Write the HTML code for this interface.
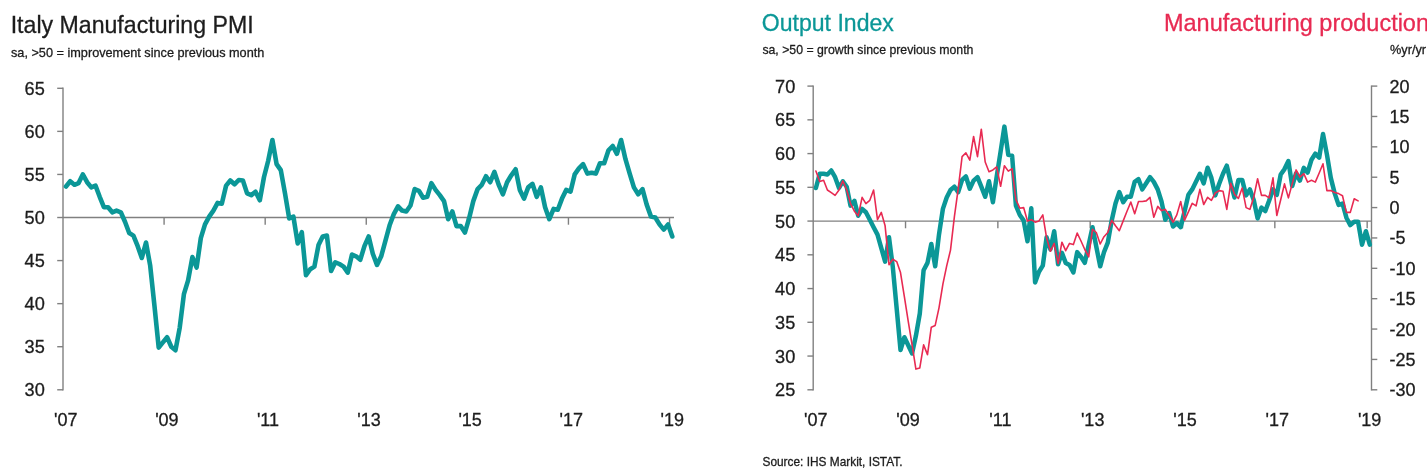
<!DOCTYPE html><html><head><meta charset="utf-8"><title>Italy Manufacturing PMI</title>
<style>html,body{margin:0;padding:0;background:#fff;overflow:hidden}svg{display:block}text{font-family:"Liberation Sans",sans-serif;stroke-width:0.3px}</style></head><body>
<svg width="1427" height="473" viewBox="0 0 1427 473">
<rect width="1427" height="473" fill="#fff"/>
<text x="10.7" y="33.1" font-size="24.2" fill="#1c1c1c" stroke="#1c1c1c" text-anchor="start" textLength="242.9" lengthAdjust="spacingAndGlyphs">Italy Manufacturing PMI</text>
<text x="11.0" y="57.2" font-size="13.3" fill="#1c1c1c" stroke="#1c1c1c" text-anchor="start" textLength="253.3" lengthAdjust="spacingAndGlyphs">sa, &gt;50 = improvement since previous month</text>
<g stroke="#808080" stroke-width="1.4" fill="none" stroke-linecap="butt">
<line x1="63.00" y1="87.60" x2="63.00" y2="390.49"/>
<line x1="57.20" y1="389.79" x2="63.00" y2="389.79"/>
<line x1="57.20" y1="346.72" x2="63.00" y2="346.72"/>
<line x1="57.20" y1="303.65" x2="63.00" y2="303.65"/>
<line x1="57.20" y1="260.58" x2="63.00" y2="260.58"/>
<line x1="57.20" y1="217.51" x2="63.00" y2="217.51"/>
<line x1="57.20" y1="174.44" x2="63.00" y2="174.44"/>
<line x1="57.20" y1="131.37" x2="63.00" y2="131.37"/>
<line x1="57.20" y1="88.30" x2="63.00" y2="88.30"/>
<line x1="63.00" y1="217.51" x2="673.99" y2="217.51"/>
<line x1="164.09" y1="217.51" x2="164.09" y2="224.71"/>
<line x1="265.18" y1="217.51" x2="265.18" y2="224.71"/>
<line x1="366.26" y1="217.51" x2="366.26" y2="224.71"/>
<line x1="467.35" y1="217.51" x2="467.35" y2="224.71"/>
<line x1="568.44" y1="217.51" x2="568.44" y2="224.71"/>
<line x1="669.53" y1="217.51" x2="669.53" y2="224.71"/>
</g>
<text x="44.8" y="396.29" font-size="18" fill="#1c1c1c" stroke="#1c1c1c" text-anchor="end" textLength="20.2" lengthAdjust="spacingAndGlyphs">30</text>
<text x="44.8" y="353.22" font-size="18" fill="#1c1c1c" stroke="#1c1c1c" text-anchor="end" textLength="20.2" lengthAdjust="spacingAndGlyphs">35</text>
<text x="44.8" y="310.15000000000003" font-size="18" fill="#1c1c1c" stroke="#1c1c1c" text-anchor="end" textLength="20.2" lengthAdjust="spacingAndGlyphs">40</text>
<text x="44.8" y="267.08000000000004" font-size="18" fill="#1c1c1c" stroke="#1c1c1c" text-anchor="end" textLength="20.2" lengthAdjust="spacingAndGlyphs">45</text>
<text x="44.8" y="224.01" font-size="18" fill="#1c1c1c" stroke="#1c1c1c" text-anchor="end" textLength="20.2" lengthAdjust="spacingAndGlyphs">50</text>
<text x="44.8" y="180.94" font-size="18" fill="#1c1c1c" stroke="#1c1c1c" text-anchor="end" textLength="20.2" lengthAdjust="spacingAndGlyphs">55</text>
<text x="44.8" y="137.87" font-size="18" fill="#1c1c1c" stroke="#1c1c1c" text-anchor="end" textLength="20.2" lengthAdjust="spacingAndGlyphs">60</text>
<text x="44.8" y="94.8" font-size="18" fill="#1c1c1c" stroke="#1c1c1c" text-anchor="end" textLength="20.2" lengthAdjust="spacingAndGlyphs">65</text>
<text x="65.8" y="426" font-size="18" fill="#1c1c1c" stroke="#1c1c1c" text-anchor="middle">'07</text>
<text x="166.888" y="426" font-size="18" fill="#1c1c1c" stroke="#1c1c1c" text-anchor="middle">'09</text>
<text x="267.976" y="426" font-size="18" fill="#1c1c1c" stroke="#1c1c1c" text-anchor="middle">'11</text>
<text x="369.064" y="426" font-size="18" fill="#1c1c1c" stroke="#1c1c1c" text-anchor="middle">'13</text>
<text x="470.152" y="426" font-size="18" fill="#1c1c1c" stroke="#1c1c1c" text-anchor="middle">'15</text>
<text x="571.2399999999999" y="426" font-size="18" fill="#1c1c1c" stroke="#1c1c1c" text-anchor="middle">'17</text>
<text x="672.328" y="426" font-size="18" fill="#1c1c1c" stroke="#1c1c1c" text-anchor="middle">'19</text>
<polyline points="66.0,186.5 70.2,181.3 74.4,184.8 78.6,183.1 82.8,174.4 87.1,182.2 91.3,187.4 95.5,185.6 99.7,196.8 103.9,207.2 108.1,207.2 112.3,212.3 116.5,210.6 120.8,212.3 125.0,221.8 129.2,233.0 133.4,235.6 137.6,245.9 141.8,258.0 146.0,242.5 150.2,265.7 154.5,306.2 158.7,347.6 162.9,342.4 167.1,337.2 171.3,346.7 175.5,350.2 179.7,327.8 183.9,294.2 188.1,280.4 192.4,257.1 196.6,267.5 200.8,238.2 205.0,224.4 209.2,216.6 213.4,210.6 217.6,202.9 221.8,203.7 226.1,185.6 230.3,180.5 234.5,184.3 238.7,180.0 242.9,180.5 247.1,193.4 251.3,195.1 255.5,191.7 259.8,200.3 264.0,177.0 268.2,160.7 272.4,140.0 276.6,164.1 280.8,170.1 285.0,193.4 289.2,218.4 293.4,216.6 297.7,243.4 301.8,232.2 306.0,275.2 310.2,269.2 314.4,266.6 318.5,245.1 322.7,236.5 326.9,235.6 331.1,270.9 335.3,262.3 339.4,264.0 343.6,266.6 347.8,272.6 352.0,254.6 356.1,256.3 360.3,259.7 364.5,245.9 368.7,236.5 372.8,253.7 377.0,264.9 381.2,256.3 385.4,240.8 389.6,225.3 393.8,214.1 398.0,206.3 402.1,210.6 406.3,211.5 410.5,205.5 414.7,189.1 418.9,190.8 423.1,197.7 427.2,196.8 431.4,183.1 435.6,189.9 439.8,195.1 444.0,201.1 448.2,219.2 452.3,211.5 456.5,226.1 460.7,226.1 464.9,232.6 469.1,218.4 473.3,201.1 477.6,189.1 481.8,184.8 486.0,176.2 490.2,182.2 494.4,171.9 498.7,184.8 502.9,194.3 507.1,182.2 511.3,175.3 515.6,169.3 519.8,189.9 524.0,198.6 528.2,187.4 532.5,183.9 536.7,196.8 540.9,187.4 545.1,207.2 549.3,219.2 553.6,208.9 557.8,209.8 562.0,198.6 566.2,189.9 570.5,191.7 574.7,174.4 578.9,168.4 583.1,164.1 587.4,173.6 591.6,172.7 595.8,173.6 600.0,163.2 604.2,163.2 608.5,150.3 612.7,146.0 616.9,153.8 621.1,140.0 625.4,158.9 629.7,173.6 633.9,187.4 638.2,194.3 642.5,189.1 646.7,204.6 651.0,216.6 655.3,217.5 659.5,224.4 663.8,229.6 668.1,224.4 672.3,236.5" fill="none" stroke="#0b9797" stroke-width="4.6" stroke-linejoin="round" stroke-linecap="round"/>
<text x="761.8" y="30.5" font-size="24.2" fill="#0b9797" stroke="#0b9797" text-anchor="start" textLength="132" lengthAdjust="spacingAndGlyphs">Output Index</text>
<text x="1164" y="30.5" font-size="24.2" fill="#e82a52" stroke="#e82a52" text-anchor="start" textLength="265" lengthAdjust="spacingAndGlyphs">Manufacturing production</text>
<text x="762.4" y="54.1" font-size="13.3" fill="#1c1c1c" stroke="#1c1c1c" text-anchor="start" textLength="211" lengthAdjust="spacingAndGlyphs">sa, &gt;50 = growth since previous month</text>
<text x="1390" y="54.1" font-size="13.3" fill="#1c1c1c" stroke="#1c1c1c" text-anchor="start" textLength="36" lengthAdjust="spacingAndGlyphs">%yr/yr</text>
<g stroke="#808080" stroke-width="1.4" fill="none" stroke-linecap="butt">
<line x1="813.20" y1="85.40" x2="813.20" y2="390.50"/>
<line x1="807.40" y1="389.80" x2="813.20" y2="389.80"/>
<line x1="807.40" y1="356.06" x2="813.20" y2="356.06"/>
<line x1="807.40" y1="322.31" x2="813.20" y2="322.31"/>
<line x1="807.40" y1="288.57" x2="813.20" y2="288.57"/>
<line x1="807.40" y1="254.82" x2="813.20" y2="254.82"/>
<line x1="807.40" y1="221.08" x2="813.20" y2="221.08"/>
<line x1="807.40" y1="187.33" x2="813.20" y2="187.33"/>
<line x1="807.40" y1="153.59" x2="813.20" y2="153.59"/>
<line x1="807.40" y1="119.84" x2="813.20" y2="119.84"/>
<line x1="807.40" y1="86.10" x2="813.20" y2="86.10"/>
<line x1="813.20" y1="221.08" x2="1371.50" y2="221.08"/>
<line x1="905.53" y1="221.08" x2="905.53" y2="228.28"/>
<line x1="997.86" y1="221.08" x2="997.86" y2="228.28"/>
<line x1="1090.18" y1="221.08" x2="1090.18" y2="228.28"/>
<line x1="1182.51" y1="221.08" x2="1182.51" y2="228.28"/>
<line x1="1274.84" y1="221.08" x2="1274.84" y2="228.28"/>
<line x1="1367.17" y1="221.08" x2="1367.17" y2="228.28"/>
<line x1="1371.50" y1="85.40" x2="1371.50" y2="390.50"/>
<line x1="1371.50" y1="389.80" x2="1377.30" y2="389.80"/>
<line x1="1371.50" y1="359.43" x2="1377.30" y2="359.43"/>
<line x1="1371.50" y1="329.06" x2="1377.30" y2="329.06"/>
<line x1="1371.50" y1="298.69" x2="1377.30" y2="298.69"/>
<line x1="1371.50" y1="268.32" x2="1377.30" y2="268.32"/>
<line x1="1371.50" y1="237.95" x2="1377.30" y2="237.95"/>
<line x1="1371.50" y1="207.58" x2="1377.30" y2="207.58"/>
<line x1="1371.50" y1="177.21" x2="1377.30" y2="177.21"/>
<line x1="1371.50" y1="146.84" x2="1377.30" y2="146.84"/>
<line x1="1371.50" y1="116.47" x2="1377.30" y2="116.47"/>
<line x1="1371.50" y1="86.10" x2="1377.30" y2="86.10"/>
</g>
<text x="795.3" y="396.29999999999995" font-size="18" fill="#1c1c1c" stroke="#1c1c1c" text-anchor="end" textLength="20.2" lengthAdjust="spacingAndGlyphs">25</text>
<text x="795.3" y="362.55555555555554" font-size="18" fill="#1c1c1c" stroke="#1c1c1c" text-anchor="end" textLength="20.2" lengthAdjust="spacingAndGlyphs">30</text>
<text x="795.3" y="328.81111111111113" font-size="18" fill="#1c1c1c" stroke="#1c1c1c" text-anchor="end" textLength="20.2" lengthAdjust="spacingAndGlyphs">35</text>
<text x="795.3" y="295.06666666666666" font-size="18" fill="#1c1c1c" stroke="#1c1c1c" text-anchor="end" textLength="20.2" lengthAdjust="spacingAndGlyphs">40</text>
<text x="795.3" y="261.3222222222222" font-size="18" fill="#1c1c1c" stroke="#1c1c1c" text-anchor="end" textLength="20.2" lengthAdjust="spacingAndGlyphs">45</text>
<text x="795.3" y="227.57777777777778" font-size="18" fill="#1c1c1c" stroke="#1c1c1c" text-anchor="end" textLength="20.2" lengthAdjust="spacingAndGlyphs">50</text>
<text x="795.3" y="193.83333333333331" font-size="18" fill="#1c1c1c" stroke="#1c1c1c" text-anchor="end" textLength="20.2" lengthAdjust="spacingAndGlyphs">55</text>
<text x="795.3" y="160.0888888888889" font-size="18" fill="#1c1c1c" stroke="#1c1c1c" text-anchor="end" textLength="20.2" lengthAdjust="spacingAndGlyphs">60</text>
<text x="795.3" y="126.34444444444443" font-size="18" fill="#1c1c1c" stroke="#1c1c1c" text-anchor="end" textLength="20.2" lengthAdjust="spacingAndGlyphs">65</text>
<text x="795.3" y="92.6" font-size="18" fill="#1c1c1c" stroke="#1c1c1c" text-anchor="end" textLength="20.2" lengthAdjust="spacingAndGlyphs">70</text>
<text x="1389.4" y="396.29999999999995" font-size="18" fill="#1c1c1c" stroke="#1c1c1c" text-anchor="start">-30</text>
<text x="1389.4" y="365.92999999999995" font-size="18" fill="#1c1c1c" stroke="#1c1c1c" text-anchor="start">-25</text>
<text x="1389.4" y="335.56" font-size="18" fill="#1c1c1c" stroke="#1c1c1c" text-anchor="start">-20</text>
<text x="1389.4" y="305.19" font-size="18" fill="#1c1c1c" stroke="#1c1c1c" text-anchor="start">-15</text>
<text x="1389.4" y="274.82" font-size="18" fill="#1c1c1c" stroke="#1c1c1c" text-anchor="start">-10</text>
<text x="1389.4" y="244.45" font-size="18" fill="#1c1c1c" stroke="#1c1c1c" text-anchor="start">-5</text>
<text x="1389.4" y="214.07999999999998" font-size="18" fill="#1c1c1c" stroke="#1c1c1c" text-anchor="start">0</text>
<text x="1389.4" y="183.70999999999998" font-size="18" fill="#1c1c1c" stroke="#1c1c1c" text-anchor="start">5</text>
<text x="1389.4" y="153.34" font-size="18" fill="#1c1c1c" stroke="#1c1c1c" text-anchor="start">10</text>
<text x="1389.4" y="122.97" font-size="18" fill="#1c1c1c" stroke="#1c1c1c" text-anchor="start">15</text>
<text x="1389.4" y="92.6" font-size="18" fill="#1c1c1c" stroke="#1c1c1c" text-anchor="start">20</text>
<text x="815.7" y="426" font-size="18" fill="#1c1c1c" stroke="#1c1c1c" text-anchor="middle">'07</text>
<text x="908.028" y="426" font-size="18" fill="#1c1c1c" stroke="#1c1c1c" text-anchor="middle">'09</text>
<text x="1000.356" y="426" font-size="18" fill="#1c1c1c" stroke="#1c1c1c" text-anchor="middle">'11</text>
<text x="1092.684" y="426" font-size="18" fill="#1c1c1c" stroke="#1c1c1c" text-anchor="middle">'13</text>
<text x="1185.012" y="426" font-size="18" fill="#1c1c1c" stroke="#1c1c1c" text-anchor="middle">'15</text>
<text x="1277.34" y="426" font-size="18" fill="#1c1c1c" stroke="#1c1c1c" text-anchor="middle">'17</text>
<text x="1369.668" y="426" font-size="18" fill="#1c1c1c" stroke="#1c1c1c" text-anchor="middle">'19</text>
<polyline points="815.9,188.0 819.7,173.8 823.6,173.8 827.4,174.5 831.3,170.5 835.1,177.2 839.0,188.0 842.8,181.3 846.7,186.7 850.5,205.6 854.4,200.8 858.2,215.7 862.1,208.9 865.9,212.3 869.8,219.7 873.6,227.2 877.5,234.6 881.3,248.1 885.1,261.6 889.0,237.3 892.8,267.0 896.7,308.8 900.5,350.0 904.4,337.2 908.2,345.3 912.1,353.4 915.9,335.8 919.8,313.5 923.6,270.3 927.5,262.9 931.3,244.0 935.2,266.3 939.0,234.6 942.9,208.9 946.7,197.5 950.5,190.0 954.4,186.7 958.2,192.1 962.1,179.9 965.9,176.5 969.8,188.7 973.6,180.6 977.5,177.2 981.3,186.7 985.2,196.8 989.0,181.3 992.9,202.2 996.7,176.5 1000.6,151.6 1004.4,126.6 1008.3,154.9 1012.1,155.6 1015.9,205.6 1019.8,215.0 1023.6,220.4 1027.5,241.3 1031.3,208.3 1035.1,282.5 1039.0,271.7 1042.8,265.6 1046.6,237.3 1050.4,249.4 1054.2,231.2 1058.1,264.3 1061.9,252.8 1065.7,262.9 1069.5,264.9 1073.4,272.4 1077.2,252.1 1081.0,256.8 1084.8,262.9 1088.7,244.7 1092.5,227.2 1096.3,246.7 1100.2,266.3 1104.0,252.1 1107.8,242.7 1111.7,220.4 1115.5,203.5 1119.3,192.1 1123.2,202.2 1127.0,196.8 1130.8,196.8 1134.7,181.9 1138.5,179.2 1142.3,189.4 1146.2,183.3 1150.0,177.2 1153.8,181.9 1157.7,189.4 1161.5,201.5 1165.3,219.7 1169.2,213.0 1173.0,226.5 1176.8,223.1 1180.7,227.2 1184.5,211.6 1188.4,194.8 1192.2,189.4 1196.1,181.6 1199.9,173.8 1203.7,183.3 1207.6,167.8 1211.4,177.9 1215.3,195.4 1219.1,184.0 1223.0,173.8 1226.8,165.7 1230.7,182.6 1234.5,197.5 1238.4,179.9 1242.2,179.9 1246.1,195.4 1249.9,189.4 1253.8,200.2 1257.6,218.4 1261.5,207.6 1265.3,211.0 1269.1,200.8 1273.0,189.4 1276.8,194.8 1280.7,174.5 1284.5,169.1 1288.4,161.0 1292.2,186.0 1296.1,173.2 1299.9,180.6 1303.8,167.8 1307.6,172.5 1311.5,159.7 1315.3,153.6 1319.2,157.6 1323.0,134.0 1326.9,154.3 1330.8,177.9 1334.7,193.4 1338.6,204.9 1342.5,203.5 1346.4,217.7 1350.3,225.1 1354.2,221.8 1358.1,221.8 1362.0,244.7 1365.9,231.2 1369.8,244.7" fill="none" stroke="#0b9797" stroke-width="4.5" stroke-linejoin="round" stroke-linecap="round"/>
<polyline points="815.9,171.1 819.7,181.5 823.6,180.2 827.4,190.0 831.3,192.7 835.1,195.4 839.0,190.0 842.8,180.9 846.7,190.0 850.5,203.6 854.4,211.2 858.2,215.8 862.1,197.3 865.9,203.6 869.8,200.3 873.6,190.0 877.5,219.7 881.3,212.4 885.1,225.8 889.0,264.7 892.8,259.2 896.7,261.6 900.5,272.6 904.4,296.9 908.2,321.2 912.1,344.9 915.9,369.1 919.8,367.9 923.6,344.9 927.5,354.6 931.3,327.2 935.2,325.4 939.0,307.8 942.9,284.1 946.7,265.9 950.5,250.1 954.4,216.7 958.2,188.8 962.1,156.6 965.9,152.9 969.8,160.2 973.6,136.5 977.5,156.6 981.3,129.2 985.2,162.0 989.0,171.7 992.9,169.9 996.7,166.9 1000.6,186.3 1004.4,165.7 1008.3,171.1 1012.1,168.7 1015.9,199.7 1019.8,208.2 1023.6,207.6 1027.5,220.9 1031.3,219.7 1035.1,222.2 1039.0,220.9 1042.8,214.9 1046.6,237.9 1050.4,251.3 1054.2,243.4 1058.1,263.5 1061.9,242.2 1065.7,250.7 1069.5,243.4 1073.4,244.6 1077.2,233.1 1081.0,241.0 1084.8,249.5 1088.7,256.8 1092.5,229.4 1096.3,232.5 1100.2,244.0 1104.0,236.7 1107.8,232.5 1111.7,220.3 1115.5,225.8 1119.3,230.7 1123.2,220.9 1127.0,211.2 1130.8,202.1 1134.7,213.7 1138.5,201.5 1142.3,201.5 1146.2,200.9 1150.0,197.3 1153.8,217.3 1157.7,206.4 1161.5,210.6 1165.3,209.4 1169.2,215.5 1173.0,222.2 1176.8,214.9 1180.7,201.5 1184.5,220.3 1188.4,211.8 1192.2,203.3 1196.1,205.8 1199.9,189.4 1203.7,204.5 1207.6,197.3 1211.4,200.3 1215.3,193.0 1219.1,190.6 1223.0,191.2 1226.8,209.4 1230.7,183.3 1234.5,194.2 1238.4,198.5 1242.2,188.1 1246.1,207.6 1249.9,209.4 1253.8,197.0 1257.6,178.7 1261.5,195.4 1265.3,195.4 1269.1,197.9 1273.0,177.8 1276.8,215.5 1280.7,199.7 1284.5,183.9 1288.4,197.9 1292.2,183.9 1296.1,169.9 1299.9,177.2 1303.8,173.6 1307.6,182.1 1311.5,180.2 1315.3,182.1 1319.2,173.0 1323.0,163.8 1326.9,190.6 1330.8,190.6 1334.7,192.4 1338.6,193.6 1342.5,195.7 1346.4,212.4 1350.3,212.4 1354.2,198.8 1358.1,200.9" fill="none" stroke="#e82a52" stroke-width="1.6" stroke-linejoin="round" stroke-linecap="round"/>
<text x="762.5" y="465.5" font-size="13" fill="#1c1c1c" stroke="#1c1c1c" text-anchor="start" textLength="140" lengthAdjust="spacingAndGlyphs">Source: IHS Markit, ISTAT.</text>
</svg></body></html>
